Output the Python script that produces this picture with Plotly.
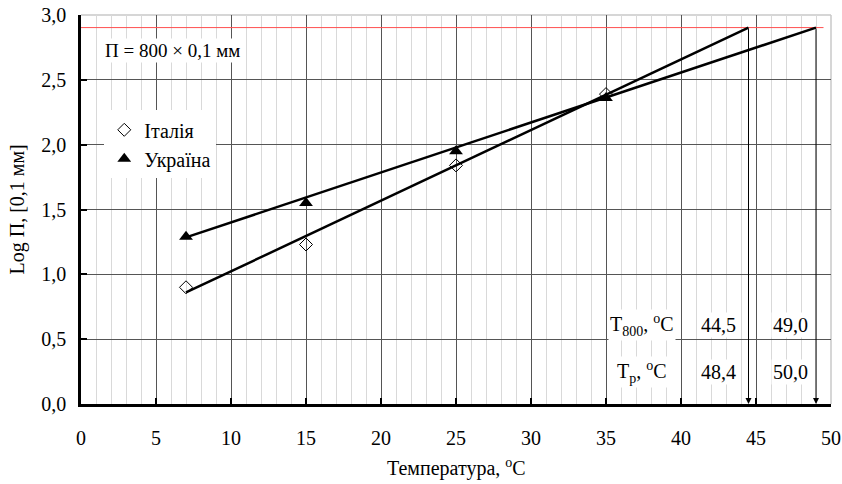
import plotly.graph_objects as go

# ---- data ----
temps = [7, 15, 25, 35]
italy = [0.90, 1.23, 1.84, 2.39]
ukraine = [1.29, 1.55, 1.95, 2.36]

log_p800 = 2.903            # log(800)
t800 = [44.5, 49.0]          # Italy, Ukraine
tp = [48.4, 50.0]
fit_start_x = 7
fit_start_y = [0.86, 1.285]  # Italy, Ukraine trend starts

series_names = ["Італія", "Україна"]
x_ticks = [0, 5, 10, 15, 20, 25, 30, 35, 40, 45, 50]
y_ticks = [0.0, 0.5, 1.0, 1.5, 2.0, 2.5, 3.0]

FONT = "Liberation Serif, Times New Roman, serif"
FS = 20

fig = go.Figure()

# red P=800 line
fig.add_trace(go.Scatter(x=[0, 49.5], y=[log_p800, log_p800], mode="lines",
                         line=dict(color="#ff5050", width=1), showlegend=False, hoverinfo="skip"))

# trend lines
for i in range(2):
    fig.add_trace(go.Scatter(x=[fit_start_x, t800[i]], y=[fit_start_y[i], log_p800], mode="lines",
                             line=dict(color="black", width=2.5), showlegend=False, hoverinfo="skip"))

# data points
fig.add_trace(go.Scatter(x=temps, y=italy, mode="markers", name=series_names[0],
                         marker=dict(symbol="diamond-open", size=10, color="black",
                                     line=dict(width=1, color="black"))))
fig.add_trace(go.Scatter(x=temps, y=ukraine, mode="markers", name=series_names[1],
                         marker=dict(symbol="triangle-up", size=12, color="black")))

annotations = []
# vertical arrows to the axis
for v in t800:
    annotations.append(dict(x=v, y=0, ax=v, ay=log_p800, xref="x", yref="y", axref="x", ayref="y",
                            text="", showarrow=True, arrowhead=2, arrowsize=1.2, arrowwidth=1,
                            arrowcolor="black", standoff=0))

# P = 800 label
annotations.append(dict(x=6.1, y=2.73, xref="x", yref="y", text="П = 800 × 0,1 мм",
                        showarrow=False, bgcolor="white", font=dict(family=FONT, size=19, color="black")))

# table
row_y = [0.61, 0.25]
col_x = [37.4, 42.5, 47.3]
labels = ["T<sub>800</sub>, <sup>o</sup>C", "T<sub>p</sub>, <sup>o</sup>C"]
rows = [t800, tp]
for r in range(2):
    annotations.append(dict(x=col_x[0], y=row_y[r], xref="x", yref="y", text=labels[r],
                            showarrow=False, bgcolor="white", borderpad=1,
                            font=dict(family=FONT, size=FS, color="black")))
    for c in range(2):
        annotations.append(dict(x=col_x[c + 1], y=row_y[r], xref="x", yref="y",
                                text=f"{rows[r][c]:.1f}".replace(".", ","),
                                showarrow=False, bgcolor="white", borderpad=1,
                                font=dict(family=FONT, size=FS, color="black")))

# axis titles
annotations.append(dict(x=0.5, y=-0.162, xref="paper", yref="paper", text="Температура, <sup>o</sup>C",
                        xanchor="center", yanchor="middle",
                        showarrow=False, font=dict(family=FONT, size=FS, color="black")))
annotations.append(dict(x=-0.0853, y=0.5, xref="paper", yref="paper", text="Log П, [0,1 мм]",
                        xanchor="center", yanchor="middle",
                        textangle=-90, showarrow=False, font=dict(family=FONT, size=FS, color="black")))

shapes = [
    dict(type="line", xref="paper", yref="paper", x0=0, x1=1, y0=1, y1=1,
         line=dict(color="#c8c8c8", width=1.5), layer="below"),
    dict(type="line", xref="paper", yref="paper", x0=1, x1=1, y0=0, y1=1,
         line=dict(color="#c8c8c8", width=1.5), layer="below"),
]

fig.update_layout(
    width=842, height=484,
    margin=dict(l=81, r=11, t=15, b=80, autoexpand=False),
    paper_bgcolor="white", plot_bgcolor="white",
    separators=", ",
    font=dict(family=FONT, size=FS, color="black"),
    showlegend=True,
    legend=dict(x=0.031, y=0.755, xanchor="left", yanchor="top", bgcolor="white",
                font=dict(family=FONT, size=FS, color="black"), itemwidth=30),
    annotations=annotations,
    shapes=shapes,
    xaxis=dict(range=[0, 50], tickvals=x_ticks, ticktext=[str(v) for v in x_ticks],
               automargin=False, ticklabelstandoff=14, ticklabeloverflow="allow",
               showgrid=True, gridcolor="#555555", gridwidth=1,
               minor=dict(dtick=1, showgrid=True, gridcolor="#d9d9d9", gridwidth=1, ticks=""),
               ticks="inside", ticklen=6, tickwidth=2, tickcolor="black",
               showline=True, linecolor="black", linewidth=2.5, zeroline=False),
    yaxis=dict(range=[0, 3], tickvals=y_ticks, tickformat=".1f",
               automargin=False, ticklabelstandoff=8, ticklabeloverflow="allow",
               showgrid=True, gridcolor="#555555", gridwidth=1,
               ticks="inside", ticklen=6, tickwidth=2, tickcolor="black",
               showline=True, linecolor="black", linewidth=2.5, zeroline=False),
)

fig.write_html("out.html", config={"displayModeBar": False},
               post_script="document.body.style.margin='0px';document.body.style.overflow='hidden';")
